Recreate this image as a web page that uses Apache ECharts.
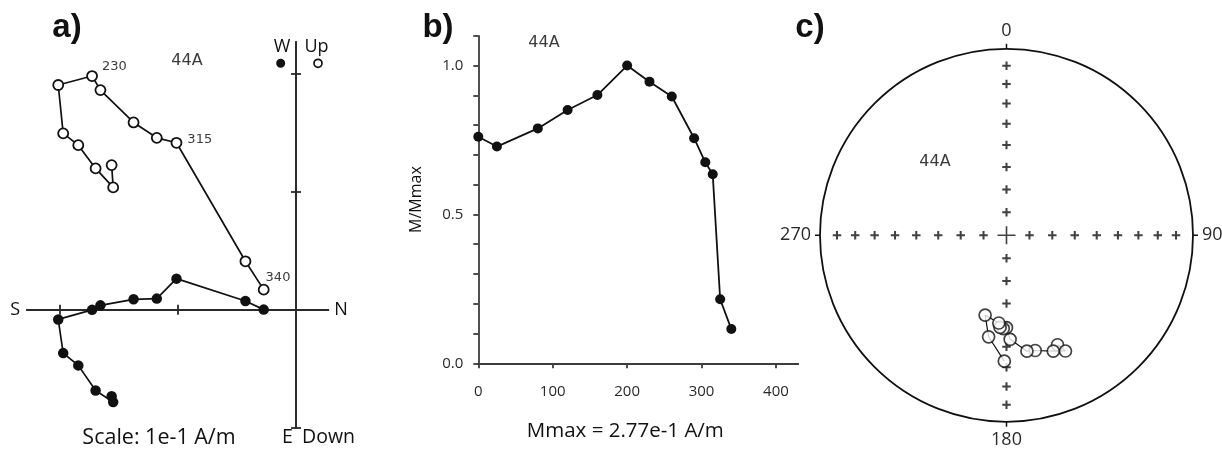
<!DOCTYPE html>
<html>
<head>
<meta charset="utf-8">
<title>44A thermal demagnetization</title>
<script src="https://cdn.jsdelivr.net/npm/echarts@6.0.0/dist/echarts.min.js"></script>
<style>
  html, body { margin: 0; padding: 0; background: #fff; }
  #main { width: 1222px; height: 455px; }
</style>
</head>
<body>
<div id="main"></div>
<script>
// Specimen 44A, thermal demagnetization steps (°C)
const steps = [0, 25, 80, 120, 160, 200, 230, 260, 290, 305, 315, 325, 340];

// Remanence vector components (A/m)
const north = [-0.1564, -0.1551, -0.1700, -0.1847, -0.1975, -0.2017, -0.1730, -0.1659, -0.1378, -0.1181, -0.1014, -0.0429, -0.0274];
const east  = [ 0.0731,  0.0781,  0.0682,  0.0470,  0.0366,  0.0081,  0.0000, -0.0038, -0.0089, -0.0095, -0.0264, -0.0075, -0.0002];
const up    = [ 0.1225,  0.1036,  0.1197,  0.1394,  0.1493,  0.1903,  0.1979,  0.1860,  0.1586,  0.1456,  0.1414,  0.0411,  0.0171];

// Normalized intensity M/Mmax
const intensity = [0.761, 0.728, 0.789, 0.851, 0.901, 1.000, 0.946, 0.896, 0.756, 0.675, 0.635, 0.215, 0.115];

// Directions (degrees); negative inclination = upper hemisphere
const declination = [155, 153, 158, 166, 170, 178, 180, 182, 184, 185, 195, 190, 181];
const inclination = [-35.5, -31, -33.5, -36.5, -37, -43.5, -49, -48.5, -49, -51, -53.5, -44, -33];

// Steps annotated on the vector plot
const labelledSteps = [230, 315, 340];

// Axis ticks and labels
const zijTicksN = [-0.2, -0.1];
const zijTicksUp = [-0.1, 0.1, 0.2];
const tempLabels = [0, 100, 200, 300, 400];
const intensityLabels = [0, 0.5, 1.0];

// Stereonet graticule: inclination rings marked along the four cardinal directions
const netInclinations = [10, 20, 30, 40, 50, 60, 70, 80];
const netDirections = [0, 90, 180, 270];

// Lambert equal-area projection: distance from centre for a given inclination (1 = primitive)
function equalArea(inc) {
  return Math.SQRT2 * Math.sin((90 - Math.abs(inc)) / 2 * Math.PI / 180);
}

const INK = '#111';
const AXIS = '#2a2a2a';
const GREY = '#3c3c3c';
const LABEL_FONT = '"Open Sans", "Noto Sans", sans-serif';
const SAMPLE_FONT = '"DejaVu Sans", sans-serif';

// per-step label nudges on the vector plot
const stepLabelOffset = { 230: [-1, -9], 315: [0, -3], 340: [-9, -12] };

const horizontalProj = steps.map((s, i) => [north[i], -east[i]]);
const verticalProj = steps.map((s, i) => {
  const item = { value: [north[i], up[i]] };
  if (labelledSteps.indexOf(s) >= 0) {
    item.label = {
      show: true,
      position: 'right',
      distance: 5,
      offset: stepLabelOffset[s],
      formatter: String(s),
      color: GREY,
      fontFamily: SAMPLE_FONT,
      fontSize: 13
    };
  }
  return item;
});

const intensityData = steps.map((s, i) => [s, intensity[i]]);

const netPath = steps.map((s, i) => [equalArea(inclination[i]), declination[i]]);
const netPoints = steps.map((s, i) => ({
  value: [equalArea(inclination[i]), declination[i]],
  itemStyle: { color: inclination[i] < 0 ? '#fff' : INK }
}));
const netCrosses = [];
netDirections.forEach(d => netInclinations.forEach(inc => netCrosses.push([equalArea(inc), d])));

const PLUS = 'path://M3.8,0H6.2V3.8H10V6.2H6.2V10H3.8V6.2H0V3.8H3.8Z';
const BIG_PLUS = 'path://M9.1,0H10.9V9.1H20V10.9H10.9V20H9.1V10.9H0V9.1H9.1Z';

function zijAxis(extra) {
  return Object.assign({
    gridIndex: 0,
    type: 'value',
    axisLine: { onZero: true, onZeroAxisIndex: 0, lineStyle: { color: AXIS, width: 1.8 } },
    axisLabel: { show: false },
    splitLine: { show: false },
    nameTextStyle: { fontFamily: LABEL_FONT, fontSize: 18, color: INK }
  }, extra);
}

function zijTicks(values) {
  return { show: true, inside: false, length: 5, customValues: values, lineStyle: { color: AXIS, width: 1.8 } };
}

function text(str, x, y, font, fill, align) {
  return {
    type: 'text', x: x, y: y, silent: true,
    style: {
      text: str, font: font, fill: fill || INK,
      align: align || 'center', verticalAlign: 'middle',
      textAlign: align || 'center', textVerticalAlign: 'middle'
    }
  };
}

const chart = echarts.init(document.getElementById('main'), null, { renderer: 'canvas' });

chart.setOption({
  animation: false,
  backgroundColor: '#fff',
  grid: [
    { left: 27, top: 42, width: 301.3, height: 386 },
    { left: 478.3, top: 35.8, width: 320, height: 327.5 }
  ],
  xAxis: [
    zijAxis({ position: 'bottom', min: -0.2282, max: 0.0274, axisTick: zijTicks(zijTicksN),
      name: 'N', nameLocation: 'end', nameGap: 6 }),
    zijAxis({ position: 'top', min: -0.2282, max: 0.0274, axisTick: zijTicks(zijTicksN),
      name: 'S', nameLocation: 'start', nameGap: 7 }),
    {
      gridIndex: 1, type: 'value', min: 0, max: 430,
      axisLine: { onZero: false, lineStyle: { color: GREY, width: 1.8 } },
      axisTick: { show: true, length: 5, customValues: tempLabels, lineStyle: { color: GREY, width: 1.8 } },
      axisLabel: { customValues: tempLabels, margin: 21, fontFamily: LABEL_FONT, fontSize: 15, color: AXIS },
      splitLine: { show: false },
      name: 'Mmax = 2.77e-1 A/m', nameLocation: 'middle', nameGap: 57,
      nameTextStyle: { fontFamily: LABEL_FONT, fontSize: 20.5, color: INK, padding: [0, 26, 0, 0] }
    }
  ],
  yAxis: [
    zijAxis({ position: 'left', min: -0.1, max: 0.2267, axisTick: zijTicks(zijTicksUp) }),
    zijAxis({ position: 'right', min: -0.1, max: 0.2267, axisTick: zijTicks(zijTicksUp) }),
    {
      gridIndex: 1, type: 'value', min: 0, max: 1.1, interval: 0.1,
      axisLine: { show: true, onZero: false, lineStyle: { color: GREY, width: 1.8 } },
      axisTick: { show: true, length: 5, lineStyle: { color: GREY, width: 1.8 } },
      axisLabel: { customValues: intensityLabels, margin: 15, formatter: v => v.toFixed(1),
        fontFamily: LABEL_FONT, fontSize: 15, color: AXIS },
      splitLine: { show: false },
      name: 'M/Mmax', nameLocation: 'middle', nameGap: 54,
      nameTextStyle: { fontFamily: LABEL_FONT, fontSize: 16, color: INK }
    }
  ],
  polar: { center: [1006.5, 235.3], radius: 186.5 },
  angleAxis: {
    type: 'value', min: 0, max: 360, interval: 90, startAngle: 90, clockwise: true,
    axisLine: { lineStyle: { color: INK, width: 1.8 } },
    axisTick: { show: true, length: 5, lineStyle: { color: INK, width: 1.5 } },
    axisLabel: { margin: 9, formatter: v => (v === 360 ? '' : String(v)),
      fontFamily: LABEL_FONT, fontSize: 18, color: AXIS },
    splitLine: { show: false }
  },
  radiusAxis: { type: 'value', min: 0, max: 1, show: false, splitLine: { show: false } },
  series: [
    // a) orthogonal vector plot: horizontal projection (filled)
    {
      type: 'line', xAxisIndex: 0, yAxisIndex: 0, data: horizontalProj,
      symbol: 'circle', symbolSize: 10.5, showAllSymbol: true,
      lineStyle: { color: INK, width: 1.7 },
      itemStyle: { color: INK, borderColor: INK, borderWidth: 0 },
      z: 3
    },
    // a) vertical projection (open)
    {
      type: 'line', xAxisIndex: 0, yAxisIndex: 0, data: verticalProj,
      symbol: 'circle', symbolSize: 10, showAllSymbol: true,
      lineStyle: { color: INK, width: 1.7 },
      itemStyle: { color: '#fff', borderColor: INK, borderWidth: 1.8 },
      z: 3
    },
    // b) intensity decay
    {
      type: 'line', xAxisIndex: 2, yAxisIndex: 2, data: intensityData,
      symbol: 'circle', symbolSize: 10, showAllSymbol: true,
      lineStyle: { color: INK, width: 1.8 },
      itemStyle: { color: INK, borderWidth: 0 },
      z: 3
    },
    // c) stereonet graticule
    {
      type: 'scatter', coordinateSystem: 'polar', data: netCrosses,
      symbol: PLUS, symbolSize: 8.5, itemStyle: { color: INK }, silent: true, z: 2
    },
    {
      type: 'scatter', coordinateSystem: 'polar', data: [[0, 0]],
      symbol: BIG_PLUS, symbolSize: 18, itemStyle: { color: INK }, silent: true, z: 2
    },
    // c) demagnetization path and directions
    {
      type: 'line', coordinateSystem: 'polar', data: netPath,
      showSymbol: false, lineStyle: { color: INK, width: 1.2 }, z: 3
    },
    {
      type: 'scatter', coordinateSystem: 'polar', data: netPoints,
      symbol: 'circle', symbolSize: 12,
      itemStyle: { borderColor: INK, borderWidth: 1.7 }, z: 4
    }
  ],
  graphic: [
    text('a)', 67, 28, 'bold 33px "Liberation Sans", sans-serif'),
    text('b)', 438, 28, 'bold 33px "Liberation Sans", sans-serif'),
    text('c)', 810, 28, 'bold 33px "Liberation Sans", sans-serif'),
    text('44A', 187, 61, '16px ' + SAMPLE_FONT, GREY),
    text('44A', 544, 43, '16px ' + SAMPLE_FONT, GREY),
    text('44A', 935, 162, '16px ' + SAMPLE_FONT, GREY),
    text('W', 282, 47, '18px ' + LABEL_FONT),
    text('Up', 316.5, 47, '18px ' + LABEL_FONT),
    text('E', 287.5, 437, '19.5px ' + LABEL_FONT),
    text('Down', 328.5, 437, '19.5px ' + LABEL_FONT),
    text('Scale: 1e-1 A/m', 159, 438, '21.5px ' + LABEL_FONT),
    { type: 'circle', silent: true, shape: { cx: 280.7, cy: 63.3, r: 4.5 }, style: { fill: INK } },
    { type: 'circle', silent: true, shape: { cx: 318, cy: 63.3, r: 4 }, style: { fill: '#fff', stroke: INK, lineWidth: 1.7 } }
  ]
});
</script>
</body>
</html>
